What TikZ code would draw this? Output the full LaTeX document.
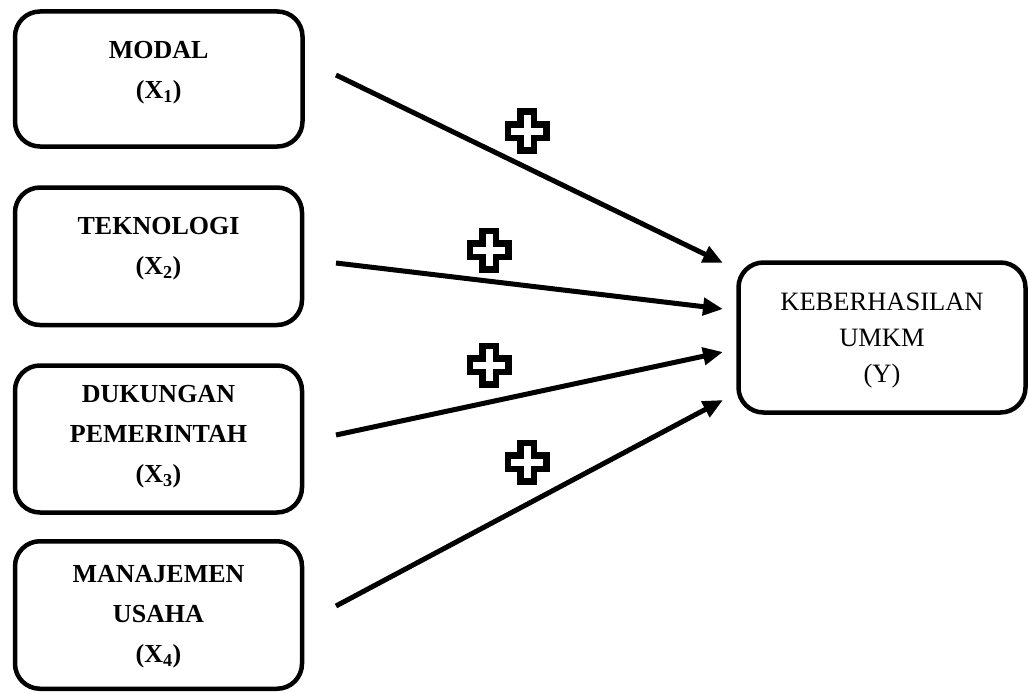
\documentclass[tikz,border=0pt]{standalone}
\usepackage{fontspec}
\setmainfont{Liberation Serif}
\usetikzlibrary{arrows.meta}
\begin{document}
\begin{tikzpicture}[x=1pt,y=-1pt,
  frame/.style={draw, line width=4.5pt, rounded corners=25pt, inner sep=0pt},
  boldlbl/.style={align=center, inner sep=0pt, font=\bfseries\fontsize{26}{40}\selectfont},
  plainlbl/.style={align=center, inner sep=0pt, font=\fontsize{26.5}{36}\selectfont},
  arr/.style={line width=5pt, -{Triangle[length=20pt,width=17pt]}},
  plusmark/.pic={\draw[line width=6.5pt, miter limit=10]
    (-6.75,-19.25) -- (6.75,-19.25) -- (6.75,-6.75) -- (19.25,-6.75) -- (19.25,6.75)
    -- (6.75,6.75) -- (6.75,19.25) -- (-6.75,19.25) -- (-6.75,6.75) -- (-19.25,6.75)
    -- (-19.25,-6.75) -- (-6.75,-6.75) -- cycle;}
]
\useasboundingbox (0,0) rectangle (1029,693);

% boxes
\node[frame, minimum width=287.5pt, minimum height=135pt] (b1) at (158.75,79) {};
\node[frame, minimum width=287pt, minimum height=137.5pt] (b2) at (158.5,256.25) {};
\node[frame, minimum width=287pt, minimum height=147pt] (b3) at (158.5,439) {};
\node[frame, minimum width=287pt, minimum height=147.5pt] (b4) at (158.5,615) {};
\node[frame, minimum width=287pt, minimum height=150pt] (y) at (882,337.5) {};

% labels
\node[boldlbl] (t1) at (158.75,72.5) {MODAL\\(X\textsubscript{1})};
\node[boldlbl] (t2) at (158.5,248.5) {TEKNOLOGI\\(X\textsubscript{2})};
\node[boldlbl] (t3) at (158.5,436.5) {DUKUNGAN\\PEMERINTAH\\(X\textsubscript{3})};
\node[boldlbl] (t4) at (158.5,616.5) {MANAJEMEN\\USAHA\\(X\textsubscript{4})};
\node[plainlbl] (ty) at (882,341) {KEBERHASILAN\\UMKM\\(Y)};

% connector ends
\coordinate (s1) at (336,75);
\coordinate (e1) at (723,263);
\coordinate (s2) at (336,263);
\coordinate (e2) at (723,309);
\coordinate (s3) at (336,435);
\coordinate (e3) at (723,352);
\coordinate (s4) at (336,606);
\coordinate (e4) at (723,400);

\draw[arr] (s1) -- (e1);
\draw[arr] (s2) -- (e2);
\draw[arr] (s3) -- (e3);
\draw[arr] (s4) -- (e4);

% plus signs
\pic at (527,131) {plusmark};
\pic at (489,250) {plusmark};
\pic at (489,365) {plusmark};
\pic at (527,462) {plusmark};
\end{tikzpicture}
\end{document}
